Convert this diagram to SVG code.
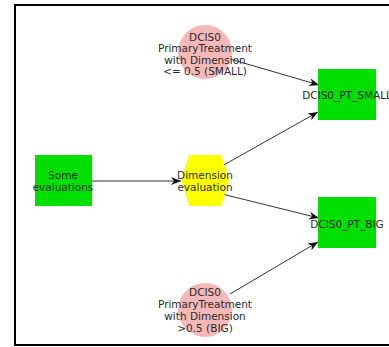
<svg xmlns="http://www.w3.org/2000/svg" width="389" height="347" viewBox="0 0 389 347">
<defs>
<style>
text{font-family:"DejaVu Sans","Liberation Sans",sans-serif;font-size:10.5px;fill:#2a2a2a;text-anchor:middle}
.sq{fill:#00e000}
.ci{fill:#f5b8b8}
.hx{fill:#ffff00}
.e{stroke:#333;stroke-width:1;fill:none;marker-end:url(#ah)}
</style>
<marker id="ah" viewBox="0 0 10 8" refX="10" refY="4" markerWidth="10" markerHeight="8" markerUnits="userSpaceOnUse" orient="auto">
<path d="M0,0 L10,4 L0,8 L3,4 Z" fill="#111"/>
</marker>
</defs>
<rect x="0" y="0" width="389" height="347" fill="#fff"/>
<rect x="15" y="5" width="382" height="340" fill="none" stroke="#000" stroke-width="2"/>
<g id="connectors">
<line class="e" x1="92" y1="181" x2="181" y2="181"/>
<line class="e" x1="230" y1="59" x2="319" y2="85"/>
<line class="e" x1="222" y1="166" x2="318" y2="112"/>
<line class="e" x1="222" y1="194" x2="319" y2="218"/>
<line class="e" x1="230" y1="294" x2="318" y2="242"/>
</g>
<g id="n_top">
<circle class="ci" cx="205" cy="52" r="27"/>
<text x="205" y="40.5">DCIS0</text>
<text x="205" y="52">PrimaryTreatment</text>
<text x="205" y="63.5">with Dimension</text>
<text x="205" y="75">&lt;= 0.5 (SMALL)</text>
</g>
<g id="n_bottom">
<circle class="ci" cx="205" cy="310" r="27"/>
<text x="205" y="296">DCIS0</text>
<text x="205" y="308">PrimaryTreatment</text>
<text x="205" y="320">with Dimension</text>
<text x="205" y="331.5">&gt;0.5  (BIG)</text>
</g>
<g id="n_some">
<rect class="sq" x="35" y="155" width="57" height="51"/>
<text x="63" y="179">Some</text>
<text x="63" y="191">evaluations</text>
</g>
<g id="n_dim">
<polygon class="hx" points="189,155 221,155 229,180 221,206 189,206 181,180"/>
<text x="205" y="179">Dimension</text>
<text x="205" y="191">evaluation</text>
</g>
<g id="n_small">
<rect class="sq" x="318" y="69" width="58" height="51"/>
<text x="347" y="98.5">DCIS0_PT_SMALL</text>
</g>
<g id="n_big">
<rect class="sq" x="318" y="197" width="58" height="51"/>
<text x="347" y="228">DCIS0_PT_BIG</text>
</g>
</svg>
